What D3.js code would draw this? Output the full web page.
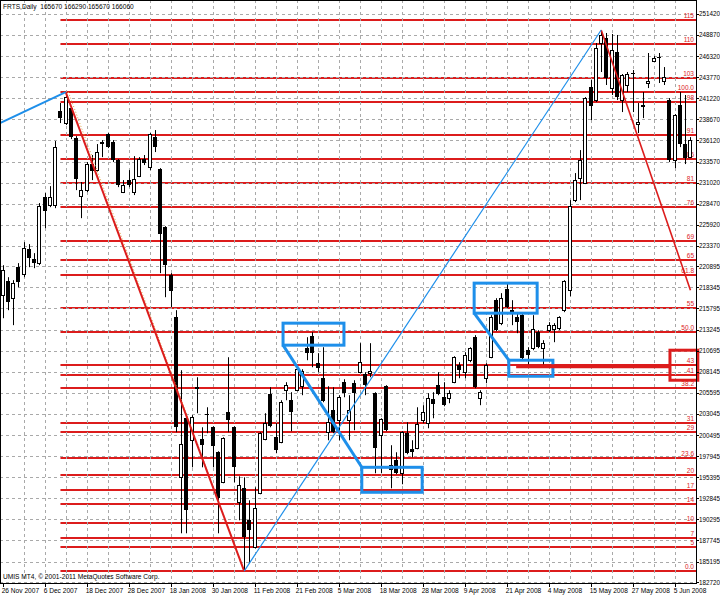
<!DOCTYPE html>
<html><head><meta charset="utf-8">
<script src="https://cdn.jsdelivr.net/npm/d3@7"></script>
<style>html,body{margin:0;padding:0;background:#fff;} svg{display:block;font-family:"Liberation Sans",Arial,sans-serif;}</style>
</head><body>
<svg id="c" width="720" height="595"></svg>
<script>
// ---- data (daily OHLC, bar index 0..131) ----
const opens=[217400,219100,217040,220790,219950,222970,221760,221280,229260,228300,228300,239670,238220,240030,236400,229380,230110,233260,232530,235920,236890,235920,233740,229870,231320,229870,231800,233860,232890,236520,232650,225630,219830,214740,195380,202520,199860,206270,199980,203010,201430,198410,194780,203250,201430,192360,194050,190180,186910,193450,199980,205430,200220,199620,205910,204700,205910,206390,210990,212440,209180,207360,200830,203490,202280,206880,202280,206760,208090,207850,207970,205550,200470,206390,196840,197440,195870,200710,198770,198890,202280,201920,204820,206520,205060,204940,206880,208940,208090,209540,212320,204940,207360,209900,216800,214020,218130,215590,214740,214990,210750,210990,212930,210990,213170,213290,213410,215590,218010,228900,231560,230960,242570,241000,247900,248500,242450,246810,241000,242820,244270,238100,240400,243060,245720,246200,243300,241000,233740,240400,235680,234100];
const highs=[221030,219580,219220,221280,223820,223580,222490,228540,229750,230590,236040,240640,241970,240270,236640,231080,233500,234350,235680,236160,237010,236160,233860,231320,232530,234220,234100,234350,237010,237370,232770,225750,220070,215590,208330,202760,202890,207480,201430,203850,201550,198530,200220,209900,201550,195500,195380,192600,194170,200830,203130,206270,201920,204700,206880,205670,208690,208450,212320,212930,210390,211110,206390,206270,205310,207240,205310,207120,211600,208090,211600,205670,202520,206520,199260,198410,200950,202040,199860,203850,204100,205550,205670,208090,206880,205910,210020,209300,210510,211110,212570,205910,209180,214990,217040,217650,218860,216800,215230,215110,211110,214990,213170,211960,214140,214020,214860,219220,228900,232170,234950,241360,243420,247900,249470,249110,248990,248870,244150,244390,244630,240640,241970,246690,246320,246690,244990,241240,239310,241970,241610,236520];
const lows=[214620,215590,213780,218370,219580,220790,220670,221040,225510,228050,227930,238220,237980,236280,230110,226720,229870,231320,232290,234100,235190,233500,230470,229750,230470,229510,231680,233140,232530,234710,220070,217160,215950,200830,188610,188610,196590,203130,196590,200710,196590,188610,194660,200830,194780,190180,184040,184980,186790,193330,199860,201430,198290,199500,204700,200950,205790,205310,209540,208690,208090,204460,199860,200710,199860,205060,199860,201070,207970,205310,207480,195870,195870,200950,194050,195750,194540,198170,197800,198770,201920,201310,202520,205310,203970,204340,206760,207360,207360,209300,206150,204100,206760,209780,213050,213780,215830,213780,212810,209540,208940,210750,210990,208940,212930,211720,213170,215350,217280,228660,228900,230840,238580,240760,244390,242820,241610,241000,239550,241970,239550,237010,238820,242450,245600,243060,242820,233500,232770,235310,233260,233980];
const closes=[220430,216560,218860,218980,223090,221880,221280,228170,227570,229260,235310,238820,241360,236520,231440,230110,233260,232410,234710,235680,235310,233740,230720,230720,230720,231440,233860,233380,236890,235310,224790,221040,217890,201430,199380,191390,202640,206030,199260,202890,199130,192840,200100,202280,196590,194420,188120,188970,191630,200710,201920,201550,198650,204460,206520,203250,208450,208210,210390,210390,208570,204580,202040,200830,205060,205550,203490,205550,209300,206520,208210,198890,202400,201070,196230,195870,200830,198290,198410,201800,203250,204940,204220,205430,204100,205550,209900,208330,210150,210990,206270,205670,208940,214740,213170,217040,215950,215230,214140,209780,210150,213290,211110,211600,213780,213780,214740,219100,228170,231320,233740,241240,240270,247290,248870,243660,247050,241360,244030,244150,244150,238340,240150,243300,246080,246080,243780,233740,239190,235680,233980,236160];

const dateLabels=["26 Nov 2007","6 Dec 2007","18 Dec 2007","28 Dec 2007","18 Jan 2008","30 Jan 2008","11 Feb 2008","21 Feb 2008","5 Mar 2008","18 Mar 2008","28 Mar 2008","9 Apr 2008","21 Apr 2008","4 May 2008","15 May 2008","27 May 2008","5 Jun 2008"];
const dateLabelBars=[0,8,16,24,32,40,48,56,64,72,80,88,96,104,112,120,128];
const priceTicks=[251420,248870,246320,243770,241220,238670,236120,233570,231020,228470,225920,223370,220895,218345,215795,213245,210695,208145,205595,203045,200495,197945,195395,192845,190295,187745,185195,182720];

const fibLevels=[0,5,7,10,14,17,20,23.6,29,31,38.2,41,43,50,55,61.8,65,69,76,81,86,91,98,100,103,110,115];
const fibLabels=["0.0","5","7","10","14","17","20","23.6","29","31","38.2","41","43","50.0","55","61.8","65","69","76","81","86","91","98","100.0","103","110","115"];
const fibLow=184040, fibHigh=241970, fibStartBar=11;

// trend lines [bar, value] pairs
const blueTrendA=[[-0.52,238220],[12,241970]];
const redTrendA=[[12,241970],[46,184040]];
const fibTrend=[[12.5,241970],[46,184040]];
const blueTrendB=[[46,184040],[114,249470]];
const redTrendB=[[114,249470],[131,218010]];
// annotation boxes [bar0,bar1,valueTop,valueBottom]
const blueBoxes=[[53.4,65.0,214020,211360],[68.4,79.9,196590,193570],[89.8,101.8,218860,215230],[96.4,104.8,209540,207600]];
const blueLinks=[[[53.4,211360],[68.4,196590]],[[89.8,215230],[96.4,209540]]];
const redMark=[[97.8,208810],[127.1,208810]];
const redBox=[127.1,132.4,210750,207120];

const headerText="FRTS,Daily  165670 166290 165670 166060";
const footerText="UMIS MT4, \u00A9 2001-2011 MetaQuotes Software Corp.";

// ---- drawing ----
const svg=d3.select("#c");
const plotR=696, plotB=583;
const x=d3.scaleLinear().domain([0,131]).range([2.7,690.45]);
const y=d3.scaleLinear().domain([182720,253100]).range([582,0]);
const crisp=v=>Math.round(v)+0.5;

svg.append("rect").attr("width",720).attr("height",595).attr("fill","#fff");
svg.append("defs").append("clipPath").attr("id","clip").append("rect")
  .attr("x",0).attr("y",0).attr("width",plotR).attr("height",plotB);
const g=svg.append("g").attr("clip-path","url(#clip)");

const RED="#dc1c1c", BLUE="#1e8fea";

// fib levels
const fibY=l=>y(fibLow+(fibHigh-fibLow)*l/100);
g.selectAll("line.fib").data(fibLevels).join("line")
  .attr("x1",x(fibStartBar)).attr("x2",plotR)
  .attr("y1",d=>Math.round(fibY(d))).attr("y2",d=>Math.round(fibY(d)))
  .attr("stroke",RED).attr("stroke-width",2);

// grid
g.selectAll("line.hg").data(priceTicks).join("line")
  .attr("x1",0).attr("x2",plotR).attr("y1",d=>crisp(y(d))).attr("y2",d=>crisp(y(d)))
  .attr("stroke","#a9a9a9").attr("stroke-width",1).attr("stroke-dasharray","3,3");
const vBars=d3.range(4,132,4);
g.selectAll("line.vg").data(vBars).join("line")
  .attr("x1",d=>crisp(x(d))).attr("x2",d=>crisp(x(d))).attr("y1",0).attr("y2",plotB)
  .attr("stroke","#a9a9a9").attr("stroke-width",1).attr("stroke-dasharray","3,3");

// fib labels
g.selectAll("text.fl").data(fibLevels).join("text")
  .attr("x",694).attr("y",d=>Math.round(fibY(d))-2)
  .attr("text-anchor","end").attr("font-size",6.5).attr("fill",RED)
  .text((d,i)=>fibLabels[i]);

// candles
const idx=d3.range(opens.length);
const cg=g.append("g");
cg.selectAll("line.w").data(idx).join("line")
  .attr("x1",i=>crisp(x(i))).attr("x2",i=>crisp(x(i)))
  .attr("y1",i=>y(highs[i])).attr("y2",i=>y(lows[i]))
  .attr("stroke","#000").attr("stroke-width",1);
cg.selectAll("rect.b").data(idx).join("rect")
  .attr("x",i=>closes[i]>=opens[i]?Math.round(x(i))-1.5:Math.round(x(i))-2)
  .attr("width",i=>closes[i]>=opens[i]?3:4)
  .attr("y",i=>{const t=y(Math.max(opens[i],closes[i]));return closes[i]>=opens[i]?Math.round(t)+0.5:Math.round(t);})
  .attr("height",i=>{const h=Math.abs(y(opens[i])-y(closes[i]));return Math.max(1,Math.round(h));})
  .attr("fill",i=>closes[i]>=opens[i]?"#fff":"#000")
  .attr("stroke",i=>closes[i]>=opens[i]?"#000":"none").attr("stroke-width",1);

// trend lines
const ln=d3.line().x(d=>x(d[0])).y(d=>y(d[1]));
g.append("path").attr("d",ln(fibTrend)).attr("stroke","#e0a040").attr("stroke-width",1).attr("stroke-dasharray","1,2").attr("fill","none");
g.append("path").attr("d",ln(redTrendA)).attr("stroke",RED).attr("stroke-width",2).attr("fill","none");
g.append("path").attr("d",ln(redTrendB)).attr("stroke",RED).attr("stroke-width",1.6).attr("fill","none");
g.append("path").attr("d",ln(blueTrendA)).attr("stroke",BLUE).attr("stroke-width",2).attr("fill","none");
g.append("path").attr("d",ln(blueTrendB)).attr("stroke",BLUE).attr("stroke-width",1.2).attr("fill","none");

// annotations
g.selectAll("rect.bb").data(blueBoxes).join("rect")
  .attr("x",d=>x(d[0])).attr("width",d=>x(d[1])-x(d[0]))
  .attr("y",d=>y(d[2])).attr("height",d=>y(d[3])-y(d[2]))
  .attr("fill","none").attr("stroke",BLUE).attr("stroke-width",3);
g.selectAll("path.bl").data(blueLinks).join("path")
  .attr("d",d=>ln(d)).attr("stroke",BLUE).attr("stroke-width",3).attr("fill","none");
svg.append("path").attr("d",ln(redMark)).attr("stroke",RED).attr("stroke-width",4).attr("fill","none");
svg.append("rect").attr("x",x(redBox[0])).attr("width",x(redBox[1])-x(redBox[0]))
  .attr("y",y(redBox[2])).attr("height",y(redBox[3])-y(redBox[2]))
  .attr("fill","none").attr("stroke",RED).attr("stroke-width",3);

// frame & axes
svg.append("rect").attr("x",0.5).attr("y",0.5).attr("width",plotR).attr("height",plotB)
  .attr("fill","none").attr("stroke","#000").attr("stroke-width",1);
const ax=svg.append("g");
ax.selectAll("line.pt").data(priceTicks).join("line")
  .attr("x1",plotR).attr("x2",plotR+3).attr("y1",d=>crisp(y(d))).attr("y2",d=>crisp(y(d)))
  .attr("stroke","#000");
ax.selectAll("text.pl").data(priceTicks).join("text")
  .attr("x",699).attr("y",d=>y(d)+2.5).attr("font-size",6.3).attr("fill","#000")
  .text(d=>d);
ax.selectAll("line.dt").data(dateLabelBars).join("line")
  .attr("x1",d=>crisp(x(d))).attr("x2",d=>crisp(x(d))).attr("y1",plotB).attr("y2",plotB+4)
  .attr("stroke","#000");
ax.selectAll("text.dl").data(dateLabelBars).join("text")
  .attr("x",d=>x(d)-1).attr("y",593).attr("font-size",6.6).attr("fill","#000")
  .text((d,i)=>dateLabels[i]);

svg.append("text").attr("x",3).attr("y",9).attr("font-size",6.6).attr("fill","#000")
  .attr("xml:space","preserve").style("white-space","pre").text(headerText);
svg.append("text").attr("x",3).attr("y",579).attr("font-size",6.6).attr("fill","#000").text(footerText);
</script>
</body></html>
